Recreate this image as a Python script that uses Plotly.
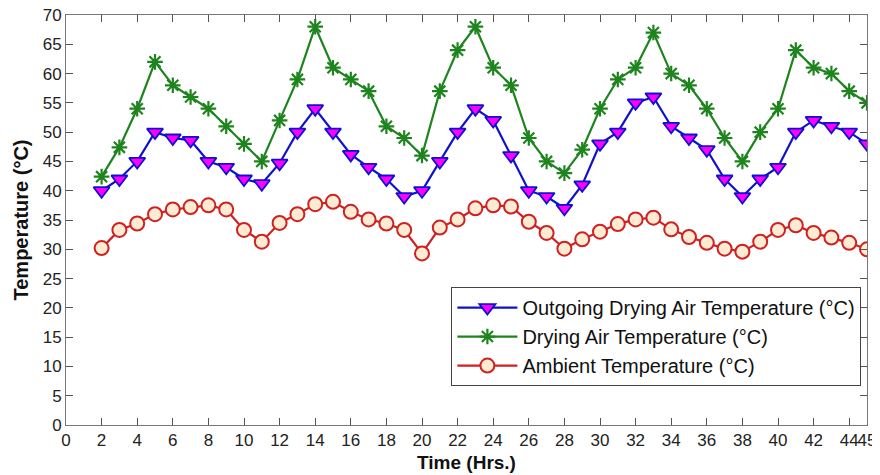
import plotly.graph_objects as go

hours = list(range(2, 46))
drying_air = [42.4, 47.4, 54, 62, 58, 56, 54, 51, 48, 45, 52, 59, 68, 61, 59, 57, 51, 49, 46, 57, 64, 68,
              61, 58, 49, 45, 43, 47, 54, 59, 61, 67, 60, 58, 54, 49, 45, 50, 54, 64, 61, 60, 57, 55]
outgoing_air = [40, 42, 45, 50, 49, 48.6, 45, 44, 42, 41.2, 44.7, 50, 54, 50, 46.2, 44, 42, 39, 40, 45, 50, 54,
                52, 46, 40, 39, 37, 41, 48, 50, 55, 56, 51, 49, 47, 42, 39, 42, 44, 50, 52, 51, 50, 48]
ambient = [30.2, 33.3, 34.4, 36, 36.8, 37.2, 37.5, 36.8, 33.3, 31.3, 34.5, 36, 37.7, 38.1, 36.4, 35.1, 34.4, 33.3,
           29.3, 33.7, 35.1, 37, 37.5, 37.3, 34.7, 32.8, 30.1, 31.7, 33, 34.3, 35.1, 35.4, 33.4, 32.1, 31.1, 30.1,
           29.6, 31.3, 33.3, 34.1, 32.8, 32, 31.1, 30]
x_ticks = list(range(0, 45, 2)) + [45]
y_ticks = list(range(0, 75, 5))

FONT = "Arial, Liberation Sans"

fig = go.Figure()
fig.add_trace(go.Scatter(
    x=hours, y=outgoing_air, mode="lines+markers",
    name="Outgoing Drying Air Temperature (°C)",
    line=dict(color="#1010d0", width=2.2),
    marker=dict(symbol="triangle-down", size=14, color="#ff00ff", line=dict(color="#1010d0", width=1.8)),
))
fig.add_trace(go.Scatter(
    x=hours, y=drying_air, mode="lines+markers",
    name="Drying Air Temperature (°C)",
    line=dict(color="#1e841e", width=2.2),
    marker=dict(symbol="asterisk-open", size=13, color="#1e841e", line=dict(color="#1e841e", width=2.2)),
))
fig.add_trace(go.Scatter(
    x=hours, y=ambient, mode="lines+markers",
    name="Ambient Temperature (°C)",
    line=dict(color="#d02020", width=2.2),
    marker=dict(symbol="circle", size=14, color="#fdebd3", line=dict(color="#d02020", width=2)),
))

axis_common = dict(
    showgrid=False, zeroline=False, showline=True, linecolor="#777777", linewidth=1,
    ticks="inside", ticklen=7, tickcolor="#555555", mirror="ticks",
    tickfont=dict(family=FONT, size=17, color="#222222"),
    automargin=False, tickangle=0,
)
fig.update_xaxes(
    range=[0, 45], tickvals=x_ticks, ticktext=[str(v) for v in x_ticks],
    title=dict(text="<b>Time (Hrs.)</b>", font=dict(family=FONT, size=19, color="#111111"), standoff=6),
    **axis_common,
)
fig.update_yaxes(
    range=[0, 70], tickvals=y_ticks,
    title=dict(text="<b>Temperature (°C)</b>", font=dict(family=FONT, size=20, color="#111111"), standoff=8),
    **axis_common,
)
# page has an 8px body margin: shrink the figure and shift margins to keep the plot box in place
fig.update_layout(
    width=872, height=467,
    margin=dict(l=58, r=13, t=7, b=50),
    paper_bgcolor="white", plot_bgcolor="white",
    showlegend=True,
    legend=dict(
        x=0.993, y=0.095, xanchor="right", yanchor="bottom",
        bgcolor="white", bordercolor="#444444", borderwidth=1,
        font=dict(family=FONT, size=20, color="#111111"),
        tracegroupgap=0, itemwidth=60,
    ),
)
fig.write_html("out.html")
